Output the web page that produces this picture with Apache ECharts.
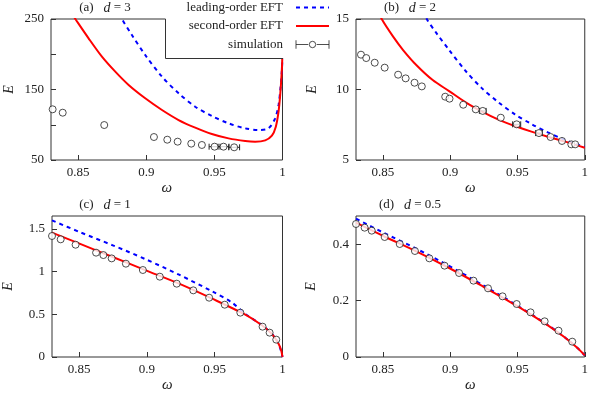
<!DOCTYPE html>
<html><head><meta charset="utf-8">
<script src="https://cdn.jsdelivr.net/npm/echarts@6/dist/echarts.min.js"></script>
<style>html,body{margin:0;padding:0;background:#fff}#c{width:591px;height:394px}</style>
</head><body><div id="c"></div>
<script>
const FONT = 'Liberation Serif';
const TXT = '#222';
const omegaTicks = [0.85, 0.9, 0.95, 1];

// ---- panel (a) d = 3 ----
const yTicksA = [50, 100, 150, 200, 250];
const yLabelsA = [50, 150, 250];
const simA_w = [0.8312, 0.8386, 0.8691, 0.9056, 0.9154, 0.9230, 0.9330, 0.9408, 0.9501, 0.9567, 0.9645];
const simA_E = [121.9, 117.1, 99.6, 82.6, 78.8, 76.0, 73.2, 71.3, 68.9, 68.9, 68.0];
const simA_err = [0, 0, 0, 0, 0, 0, 0, 0, 0.004, 0.004, 0.004];
const leadA_w = [0.8805, 0.8821, 0.8894, 0.8992, 0.9115, 0.9237, 0.9359, 0.9481, 0.9604, 0.9726, 0.9824, 0.9897, 0.9946, 0.9971, 0.9985, 0.9995, 1.0];
const leadA_E = [258, 250, 227.3, 198.9, 168.2, 144.6, 125.6, 112.4, 102.0, 94.9, 92.6, 94.9, 109.1, 128.0, 151.7, 175.3, 200];
const secA_w = [0.8455, 0.8479, 0.8576, 0.8674, 0.8772, 0.8870, 0.8992, 0.9115, 0.9237, 0.9359, 0.9481, 0.9604, 0.9726, 0.9799, 0.9873, 0.9922, 0.9951, 0.9971, 0.9983, 0.9993, 0.9998, 1.0];
const secA_E = [257, 250, 222.6, 196.6, 175.3, 156.4, 137.5, 120.9, 106.7, 95.9, 86.9, 80.7, 77.0, 76.0, 77.9, 84.5, 97.3, 118.6, 142.2, 170.6, 191.8, 230];

// ---- panel (b) d = 2 ----
const yTicksB = [5, 10, 15];
const yLabelsB = [5, 10, 15];
const simB_w = [0.8337, 0.8376, 0.8439, 0.8513, 0.8613, 0.8669, 0.8735, 0.8789, 0.8963, 0.8995, 0.9097, 0.9190, 0.9242, 0.9376, 0.9494, 0.9660, 0.9746, 0.9831, 0.9900, 0.9929];
const simB_E = [12.47, 12.23, 11.90, 11.55, 11.05, 10.79, 10.48, 10.22, 9.49, 9.35, 8.92, 8.59, 8.48, 8.00, 7.53, 6.91, 6.63, 6.35, 6.11, 6.11];
const simB_err = [0, 0, 0, 0, 0, 0, 0, 0, 0, 0, 0, 0, 0.0025, 0, 0.003, 0.0025, 0, 0, 0, 0];
const leadB_w = [0.8805, 0.8826, 0.8894, 0.8992, 0.9115, 0.9237, 0.9359, 0.9481, 0.9604, 0.9726, 0.9824, 0.9922, 1.0];
const leadB_E = [15.6, 15.0, 14.05, 12.80, 11.31, 10.08, 9.09, 8.24, 7.55, 6.96, 6.54, 6.16, 5.95];
const secB_w = [0.8470, 0.8491, 0.8576, 0.8650, 0.8748, 0.8870, 0.8992, 0.9115, 0.9237, 0.9359, 0.9481, 0.9604, 0.9726, 0.9848, 1.0];
const secB_E = [15.5, 15.0, 13.75, 12.80, 11.74, 10.67, 9.89, 9.09, 8.43, 7.86, 7.41, 7.01, 6.65, 6.32, 5.87];

// ---- panel (c) d = 1 ----
const yTicksC = [0, 0.5, 1, 1.5];
const yLabelsC = [0, 0.5, 1, 1.5];
const simC_w = [0.8300, 0.8364, 0.8474, 0.8625, 0.8679, 0.8740, 0.8845, 0.8970, 0.9095, 0.9220, 0.9342, 0.9459, 0.9574, 0.9689, 0.9853, 0.9905, 0.9954];
const simC_E = [1.416, 1.377, 1.314, 1.221, 1.193, 1.154, 1.092, 1.018, 0.940, 0.858, 0.780, 0.694, 0.612, 0.519, 0.355, 0.285, 0.203];
const leadC_w = [0.83, 0.8503, 0.8748, 0.8992, 0.9237, 0.9481, 0.9628, 0.9726, 0.9848, 0.9922, 0.9971, 1.0];
const leadC_E = [1.599, 1.463, 1.307, 1.143, 0.963, 0.768, 0.636, 0.503, 0.374, 0.271, 0.157, 0];
const secC_w = [0.83, 0.8503, 0.8748, 0.8992, 0.9237, 0.9481, 0.9726, 0.9848, 0.9922, 0.9971, 0.9990, 1.0];
const secC_E = [1.455, 1.326, 1.170, 1.014, 0.858, 0.683, 0.495, 0.371, 0.269, 0.156, 0.078, 0.0];

// ---- panel (d) d = 0.5 ----
const yTicksD = [0, 0.2, 0.4];
const yLabelsD = [0, 0.2, 0.4];
const simD_w = [0.8300, 0.8364, 0.8417, 0.8513, 0.8625, 0.8738, 0.8845, 0.8958, 0.9066, 0.9173, 0.9281, 0.9389, 0.9494, 0.9597, 0.9702, 0.9805, 0.9907];
const simD_E = [0.4716, 0.4586, 0.4480, 0.4255, 0.4007, 0.3759, 0.3499, 0.3239, 0.2979, 0.2707, 0.2435, 0.2151, 0.1879, 0.1584, 0.1265, 0.0934, 0.0544];
const leadD_w = [0.83, 0.8503, 0.8748, 0.8992, 0.9237, 0.9481, 0.9726, 0.9848, 0.9946, 1.0];
const leadD_E = [0.4905, 0.441, 0.384, 0.323, 0.2565, 0.1875, 0.1133, 0.0712, 0.0320, 0.006];
const secD_w = [0.83, 0.8503, 0.8748, 0.8992, 0.9237, 0.9481, 0.9726, 0.9848, 0.9946, 1.0];
const secD_E = [0.4763, 0.4291, 0.3747, 0.3156, 0.2518, 0.1856, 0.1123, 0.0709, 0.0319, 0.0059];

const titles = ['(a)', '(b)', '(c)', '(d)'];
const dVals = ['3', '2', '1', '0.5'];

const panels = [
  {grid: {left: 51, top: 19}, ymin: 50, ymax: 250, yt: yTicksA, yl: yLabelsA, eGap: 35,
   sim: [simA_w, simA_E, simA_err], lead: [leadA_w, leadA_E], sec: [secA_w, secA_E], title: [105, 1]},
  {grid: {left: 356, top: 19}, ymin: 5, ymax: 15, yt: yTicksB, yl: yLabelsB, eGap: 37,
   sim: [simB_w, simB_E, simB_err], lead: [leadB_w, leadB_E], sec: [secB_w, secB_E], title: [410, 1]},
  {grid: {left: 51, top: 216}, ymin: 0, ymax: 1.65, yt: yTicksC, yl: yLabelsC, eGap: 37,
   sim: [simC_w, simC_E, null], lead: [leadC_w, leadC_E], sec: [secC_w, secC_E], title: [105, 198]},
  {grid: {left: 356, top: 216}, ymin: 0, ymax: 0.5, yt: yTicksD, yl: yLabelsD, eGap: 38,
   sim: [simD_w, simD_E, null], lead: [leadD_w, leadD_E], sec: [secD_w, secD_E], title: [410, 198]}
];

const zip = (a, b) => a.map((v, i) => [v, b[i]]);
const labelStyle = {fontFamily: FONT, fontSize: 13, color: TXT};

const grid = [], xAxis = [], yAxis = [], series = [], title = [];
panels.forEach((p, i) => {
  grid.push({left: p.grid.left, top: p.grid.top, width: 231.5, height: 141,
    show: true, borderColor: '#333', borderWidth: 1, backgroundColor: 'transparent'});
  xAxis.push({type: 'value', gridIndex: i, min: 0.83, max: 1,
    name: 'ω', nameLocation: 'middle', nameGap: 21,
    nameTextStyle: {fontFamily: FONT, fontSize: 15, fontStyle: 'italic', color: TXT},
    axisLine: {show: false}, splitLine: {show: false},
    axisTick: {inside: true, length: 5, customValues: omegaTicks, lineStyle: {color: '#333'}},
    axisLabel: Object.assign({margin: 6, customValues: omegaTicks}, labelStyle)});
  yAxis.push({type: 'value', gridIndex: i, min: p.ymin, max: p.ymax,
    name: 'E', nameLocation: 'middle', nameGap: p.eGap, nameRotate: 90,
    nameTextStyle: {fontFamily: FONT, fontSize: 14, fontStyle: 'italic', color: TXT},
    axisLine: {show: false}, splitLine: {show: false},
    axisTick: {inside: true, length: 5, customValues: p.yt, lineStyle: {color: '#333'}},
    axisLabel: Object.assign({margin: 7, customValues: p.yl}, labelStyle)});
  series.push({name: 'leading-order EFT', type: 'line', xAxisIndex: i, yAxisIndex: i,
    data: zip(p.lead[0], p.lead[1]), symbol: 'none', smooth: 0.3, z: 2,
    lineStyle: {color: '#0000ff', width: 2, type: [4, 4]}, itemStyle: {color: '#0000ff'}});
  series.push({name: 'second-order EFT', type: 'line', xAxisIndex: i, yAxisIndex: i,
    data: zip(p.sec[0], p.sec[1]), symbol: 'none', smooth: 0.3, z: 2,
    lineStyle: {color: '#ff0000', width: 2}, itemStyle: {color: '#ff0000'}});
  const simData = p.sim[0].map((w, k) => [w, p.sim[1][k], p.sim[2] ? p.sim[2][k] : 0]);
  series.push({name: 'errbar', type: 'custom', xAxisIndex: i, yAxisIndex: i, z: 3,
    data: simData, encode: {x: 0, y: 1},
    renderItem: (params, api) => {
      const d = api.value(2);
      if (!d) return null;
      const w = api.value(0), e = api.value(1);
      const a = api.coord([w - d, e]), b = api.coord([w + d, e]);
      const st = {stroke: '#222', lineWidth: 1};
      return {type: 'group', children: [
        {type: 'line', shape: {x1: a[0], y1: a[1], x2: b[0], y2: b[1]}, style: st},
        {type: 'line', shape: {x1: a[0], y1: a[1] - 3, x2: a[0], y2: a[1] + 3}, style: st},
        {type: 'line', shape: {x1: b[0], y1: b[1] - 3, x2: b[0], y2: b[1] + 3}, style: st}
      ]};
    }});
  series.push({name: 'simulation', type: 'scatter', xAxisIndex: i, yAxisIndex: i, z: 4,
    data: simData.map(r => [r[0], r[1]]), symbol: 'circle', symbolSize: 7,
    itemStyle: {color: '#fff', borderColor: '#222', borderWidth: 1}});
  title.push({text: '{r|' + titles[i] + '}   {i|d}{r| = ' + dVals[i] + '}',
    left: p.title[0], top: p.title[1], textAlign: 'center', padding: 0,
    textStyle: {fontFamily: FONT, fontSize: 13, color: TXT, fontWeight: 'normal',
      rich: {r: {fontFamily: FONT, fontSize: 13, color: TXT},
             i: {fontFamily: FONT, fontSize: 14, fontStyle: 'italic', color: TXT}}}});
});

const option = {
  animation: false,
  backgroundColor: '#fff',
  title, grid, xAxis, yAxis, series,
  legend: {
    orient: 'vertical', right: 261, top: 1, align: 'right', padding: 0,
    itemWidth: 33, itemHeight: 13, itemGap: 5.5, z: 10, selectedMode: false,
    textStyle: {fontFamily: FONT, fontSize: 13, color: TXT, padding: [0, 8, 0, 0]},
    data: [
      {name: 'leading-order EFT', itemStyle: {opacity: 0}},
      {name: 'second-order EFT', itemStyle: {opacity: 0}},
      {name: 'simulation', icon: 'path://M1,1L1,9M1,5L12.5,5M20.5,5L32,5M32,1L32,9M19.5,5A3,3,0,1,1,13.5,5A3,3,0,1,1,19.5,5Z',
       itemStyle: {color: '#fff', borderColor: '#222', borderWidth: 1}}
    ]
  },
  graphic: [
    {type: 'rect', shape: {x: 165.5, y: 0, width: 119.5, height: 58.5}, style: {fill: '#fff'}, z: 5},
    {type: 'polyline', shape: {points: [[165.5, 19], [165.5, 58.5], [283, 58.5]]},
     style: {stroke: '#333', fill: 'none', lineWidth: 1}, z: 6}
  ]
};
echarts.init(document.getElementById('c')).setOption(option);
</script></body></html>
